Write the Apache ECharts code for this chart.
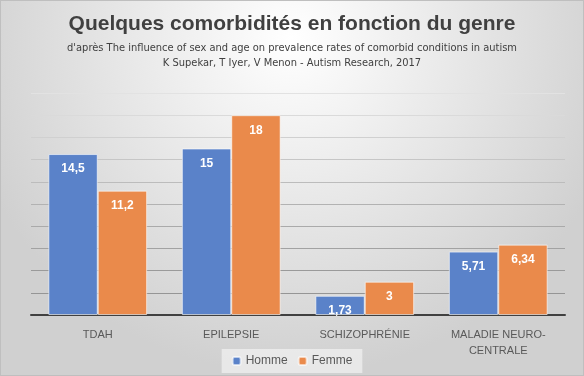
<!DOCTYPE html>
<html>
<head>
    <meta charset="utf-8" />
    <title>Comorbidités</title>
    <script src="https://cdn.jsdelivr.net/npm/echarts@6/dist/echarts.min.js"></script>
    <style>
        html, body { margin: 0; padding: 0; }
        #main { width: 584px; height: 376px; box-sizing: border-box; border: 1px solid #bfbfbf; }
    </style>
</head>
<body>
    <div id="main"></div>
    <script type="text/javascript">
        var categories = ['TDAH', 'EPILEPSIE', 'SCHIZOPHRÉNIE', 'MALADIE NEURO-\nCENTRALE'];
        var homme = [14.5, 15, 1.73, 5.71];
        var femme = [11.2, 18, 3, 6.34];

        var fmt = function (p) { return String(p.value).replace('.', ','); };

        var myChart = echarts.init(document.getElementById('main'));
        myChart.setOption({
            backgroundColor: {
                type: 'radial', x: 0.5, y: 0.1, r: 0.9,
                colorStops: [{ offset: 0, color: '#ffffff' }, { offset: 1, color: '#d0d0d0' }]
            },
            title: {
                text: 'Quelques comorbidités en fonction du genre',
                subtext: "d'après The influence of sex and age on prevalence rates of comorbid conditions in autism\nK Supekar, T Iyer, V Menon - Autism Research, 2017",
                left: 'center',
                top: 8,
                itemGap: 6,
                textStyle: { fontFamily: 'Liberation Sans', fontSize: 21, fontWeight: 'bold', color: '#404040' },
                subtextStyle: { fontFamily: "'DejaVu Sans Condensed', 'Liberation Sans'", fontSize: 11, color: '#404040', lineHeight: 15 }
            },
            legend: {
                bottom: 2,
                itemWidth: 8,
                itemHeight: 8,
                itemGap: 10,
                padding: [6, 10],
                backgroundColor: 'rgba(255,255,255,0.5)',
                textStyle: { fontFamily: 'Liberation Sans', fontSize: 12, color: '#595959' },
                data: ['Homme', 'Femme']
            },
            grid: { left: 30, right: 18, top: 92, bottom: 60 },
            xAxis: {
                type: 'category',
                data: categories,
                axisTick: { show: false },
                axisLine: { lineStyle: { color: '#404040', width: 2 } },
                axisLabel: { color: '#595959', fontFamily: 'Liberation Sans', fontSize: 11, margin: 12, lineHeight: 16 }
            },
            yAxis: {
                type: 'value',
                min: 0, max: 20, interval: 2,
                axisLabel: { show: false },
                splitLine: { lineStyle: { color: ['#909090', '#959595', '#9a9a9a', '#a2a2a2', '#aaaaaa', '#b2b2b2', '#bcbcbc', '#c6c6c6', '#d0d0d0', '#dadada', '#e2e2e2'] } }
            },
            series: [
                {
                    name: 'Homme', type: 'bar', data: homme,
                    barGap: '0%', barCategoryGap: '26%',
                    itemStyle: { color: '#5a82c9', borderColor: 'rgba(255,255,255,0.6)', borderWidth: 1 },
                    label: { show: true, position: 'insideTop', offset: [0, 4], formatter: fmt, color: '#fff', fontFamily: 'Liberation Sans', fontSize: 12, fontWeight: 'bold' }
                },
                {
                    name: 'Femme', type: 'bar', data: femme,
                    itemStyle: { color: '#ea8a4b', borderColor: 'rgba(255,255,255,0.6)', borderWidth: 1 },
                    label: { show: true, position: 'insideTop', offset: [0, 4], formatter: fmt, color: '#fff', fontFamily: 'Liberation Sans', fontSize: 12, fontWeight: 'bold' }
                }
            ]
        });
    </script>
</body>
</html>
